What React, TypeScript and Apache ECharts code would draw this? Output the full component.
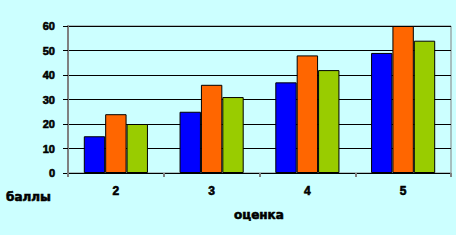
import React, { useEffect, useRef } from "react";
import * as echarts from "echarts";

const categories = ["2", "3", "4", "5"];
const seriesBlue = [15, 25, 37, 49];
const seriesOrange = [24, 36, 48, 60];
const seriesGreen = [20, 31, 42, 54];
const yTicks = { min: 0, max: 60, interval: 10 };
const yTitle = "баллы";
const xTitle = "оценка";

export default function App() {
  const ref = useRef<HTMLDivElement>(null);
  useEffect(() => {
    if (!ref.current) return;
    const chart = echarts.init(ref.current, undefined, { renderer: "svg" });
    const labelFont = {
      fontFamily: "Liberation Sans, Arial, sans-serif",
      fontWeight: "bold" as const,
      fontSize: 11,
      color: "#000",
      textBorderColor: "#000",
      textBorderWidth: 0.6,
    };
    const mkSeries = (data: number[], color: string) => ({
      type: "bar" as const,
      data,
      barGap: "0%",
      barCategoryGap: "33%",
      itemStyle: { color, borderColor: "#000", borderWidth: 1 },
    });
    const titleStyle = {
      fontFamily: "DejaVu Sans, sans-serif",
      fontWeight: "bold",
      fontSize: 12,
      fill: "#000",
      stroke: "#000",
      lineWidth: 0.6,
      verticalAlign: "middle",
    };
    chart.setOption({
      animation: false,
      backgroundColor: "#ffffff",
      graphic: [
        {
          type: "rect",
          z: -100,
          shape: { x: 0, y: 0, width: 456, height: 235 },
          style: { fill: "#CCFFFF" },
          silent: true,
        },
        { type: "text", x: 6, y: 197, style: { text: yTitle, ...titleStyle } },
        { type: "text", x: 234, y: 215, style: { text: xTitle, ...titleStyle } },
      ],
      grid: {
        left: 68,
        top: 26,
        width: 383,
        height: 147,
        show: true,
        borderColor: "#808080",
        borderWidth: 1,
        backgroundColor: "transparent",
      },
      xAxis: {
        type: "category",
        data: categories,
        axisLine: { show: true, lineStyle: { color: "#000", width: 1 } },
        axisTick: {
          show: true,
          interval: 0,
          alignWithLabel: false,
          length: 4,
          lineStyle: { color: "#808080", width: 2 },
        },
        axisLabel: { ...labelFont, fontSize: 12, margin: 12 },
        splitLine: { show: false },
      },
      yAxis: {
        type: "value",
        min: yTicks.min,
        max: yTicks.max,
        interval: yTicks.interval,
        axisLine: { show: true, lineStyle: { color: "#808080", width: 2 } },
        axisTick: { show: true, length: 5, lineStyle: { color: "#000", width: 1 } },
        axisLabel: { ...labelFont, margin: 13 },
        splitLine: { show: true, lineStyle: { color: "#000", width: 1 } },
      },
      series: [
        mkSeries(seriesBlue, "#0000FF"),
        mkSeries(seriesOrange, "#FF6600"),
        mkSeries(seriesGreen, "#99CC00"),
      ],
    });
    return () => chart.dispose();
  }, []);
  return (
    <div
      ref={ref}
      style={{ position: "fixed", left: 0, top: 0, width: 466, height: 244 }}
    />
  );
}
